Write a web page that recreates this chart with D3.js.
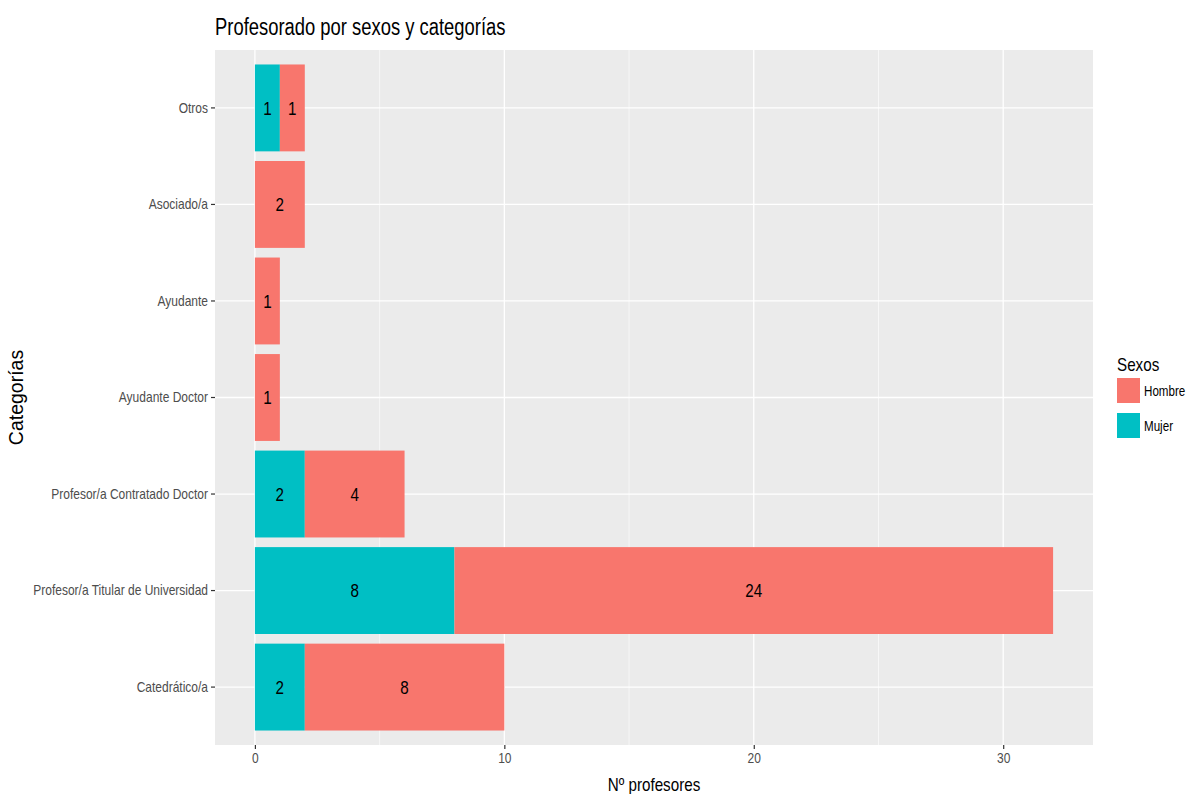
<!DOCTYPE html>
<html><head><meta charset="utf-8">
<script src="https://cdn.jsdelivr.net/npm/d3@7"></script>
<style>
body{margin:0;background:#fff;}
text{font-family:"Liberation Sans",Arial,Helvetica,sans-serif;}
</style></head>
<body><svg id="c" width="1189" height="794"></svg>
<script>
const categories = ["Otros","Asociado/a","Ayudante","Ayudante Doctor","Profesor/a Contratado Doctor","Profesor/a Titular de Universidad","Catedrático/a"];
const mujer = [1,0,0,0,2,8,2];
const hombre = [1,2,1,1,4,24,8];
const seriesNames = ["Hombre","Mujer"];
const seriesColors = ["#F8766D","#00BFC4"];
const xTicks = [0,10,20,30];
const xMinor = [5,15,25];

const svg = d3.select("#c");
const L=215, R=1093, T=50, B=745;
const x = d3.scaleLinear().domain([-1.6,33.6]).range([L,R]);
const y = d3.scaleBand().domain(categories).range([T,B]).paddingInner(0.1).paddingOuter(0.15);

svg.append("rect").attr("x",L).attr("y",T).attr("width",R-L).attr("height",B-T).attr("fill","#EBEBEB");
const g = svg.append("g");
xMinor.forEach(v=>g.append("line").attr("x1",x(v)).attr("x2",x(v)).attr("y1",T).attr("y2",B).attr("stroke","#fff").attr("stroke-width",0.6));
xTicks.forEach(v=>g.append("line").attr("x1",x(v)).attr("x2",x(v)).attr("y1",T).attr("y2",B).attr("stroke","#fff").attr("stroke-width",1.3));
categories.forEach(c=>g.append("line").attr("x1",L).attr("x2",R).attr("y1",y(c)+y.bandwidth()/2).attr("y2",y(c)+y.bandwidth()/2).attr("stroke","#fff").attr("stroke-width",1.3));

const rows = categories.map((c,i)=>({c, m:mujer[i], h:hombre[i]}));
rows.forEach(r=>{
  if(r.m>0){
    svg.append("rect").attr("x",x(0)).attr("y",y(r.c)).attr("width",x(r.m)-x(0)).attr("height",y.bandwidth()).attr("fill",seriesColors[1]);
  }
  svg.append("rect").attr("x",x(r.m)).attr("y",y(r.c)).attr("width",x(r.m+r.h)-x(r.m)).attr("height",y.bandwidth()).attr("fill",seriesColors[0]);
});
rows.forEach(r=>{
  const cy = y(r.c)+y.bandwidth()/2;
  if(r.m>0) svg.append("text").attr("class","h").attr("x",x(r.m/2)).attr("y",cy).attr("dy","0.36em").attr("text-anchor","middle").attr("font-size",19).attr("fill","#000").text(r.m);
  svg.append("text").attr("class","h").attr("x",x(r.m+r.h/2)).attr("y",cy).attr("dy","0.36em").attr("text-anchor","middle").attr("font-size",19).attr("fill","#000").text(r.h);
});

// axes
const xa = svg.append("g").attr("transform",`translate(0,${B})`).call(d3.axisBottom(x).tickValues(xTicks).tickSize(4).tickPadding(3));
xa.select(".domain").remove();
xa.selectAll("line").attr("stroke","#333").attr("stroke-width",1.2);
xa.selectAll("text").attr("class","h").attr("font-size",15).attr("fill","#4D4D4D").attr("font-family","Liberation Sans, Arial, sans-serif");
const ya = svg.append("g").attr("transform",`translate(${L},0)`).call(d3.axisLeft(y).tickSize(4).tickPadding(3));
ya.select(".domain").remove();
ya.selectAll("line").attr("stroke","#333").attr("stroke-width",1.2);
ya.selectAll("text").attr("class","h").attr("font-size",15).attr("fill","#4D4D4D").attr("font-family","Liberation Sans, Arial, sans-serif");

svg.append("text").attr("class","h").attr("x",(L+R)/2).attr("y",791).attr("text-anchor","middle").attr("font-size",19).attr("fill","#000").text("Nº profesores");
svg.append("text").attr("transform",`translate(23,${(T+B)/2}) rotate(-90)`).attr("text-anchor","middle").attr("font-size",19.5).attr("fill","#000").text("Categorías");
svg.append("text").attr("class","h").attr("x",L).attr("y",35).attr("font-size",23).attr("fill","#000").text("Profesorado por sexos y categorías");

// legend
const lg = svg.append("g").attr("transform","translate(1117,0)");
lg.append("text").attr("class","h").attr("x",0).attr("y",371).attr("font-size",19).attr("fill","#000").text("Sexos");
seriesNames.forEach((n,i)=>{
  const yy = 378 + i*35;
  lg.append("rect").attr("x",0).attr("y",yy).attr("width",23).attr("height",25).attr("fill",seriesColors[i]);
  lg.append("text").attr("class","h").attr("x",27).attr("y",yy+12.5).attr("dy","0.36em").attr("font-size",14.5).attr("fill","#000").text(n);
});

// horizontal condensation to match the narrow rendering of the reference
svg.selectAll("text.h").each(function(){
  const w = this.getComputedTextLength();
  d3.select(this).attr("textLength", w*0.8).attr("lengthAdjust","spacingAndGlyphs");
});
</script></body></html>
